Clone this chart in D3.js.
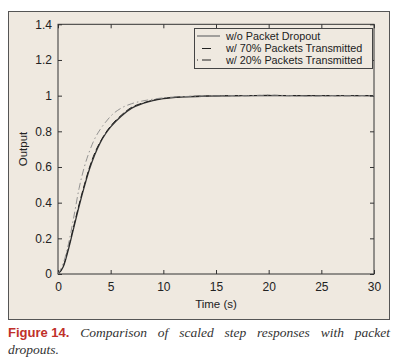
<!DOCTYPE html>
<html><head><meta charset="utf-8">
<script src="https://cdn.jsdelivr.net/npm/d3@7"></script>
<style>body{margin:0;background:#fff;} svg{display:block;}</style>
</head><body>
<script>
const time = [0,0.5,1,1.5,2,2.5,3,3.5,4,4.5,5,6,7,8,9,10,12,14,16,18,20,22,24,26,28,30];
const noDropout = [0,0.04,0.14,0.26,0.38,0.49,0.59,0.67,0.735,0.785,0.825,0.885,0.93,0.955,0.972,0.983,0.993,0.997,0.999,1.0,1.0,1.0,1.0,1.0,1.0,1.0];
const pct70 = [0,0.045,0.15,0.27,0.39,0.50,0.60,0.68,0.74,0.79,0.83,0.89,0.935,0.958,0.974,0.985,0.994,0.998,1.0,1.0,1.002,1.0,1.0,1.0,1.0,1.0];
const pct20 = [0,0.06,0.17,0.32,0.48,0.60,0.69,0.76,0.81,0.85,0.885,0.93,0.955,0.97,0.98,0.988,0.995,0.998,1.0,1.0,1.003,1.0,0.998,1.0,1.0,1.0];
const seriesNames = ["w/o Packet Dropout","w/ 70% Packets Transmitted","w/ 20% Packets Transmitted"];
const xTicks = [0,5,10,15,20,25,30];
const yTicks = [0,0.2,0.4,0.6,0.8,1,1.2,1.4];

const W=401,H=360;
const svg=d3.select("body").append("svg").attr("width",W).attr("height",H);
svg.append("rect").attr("width",W).attr("height",H).attr("fill","#fff");
svg.append("rect").attr("x",8.5).attr("y",11.5).attr("width",381).attr("height",308)
  .attr("fill","#efe9e0").attr("stroke","#555").attr("stroke-width",1);

const x=d3.scaleLinear().domain([0,30]).range([58,374]);
const y=d3.scaleLinear().domain([0,1.4]).range([274,24.3]);

const font="Liberation Sans, Arial, sans-serif";
const axisCol="#333";
svg.append("rect").attr("x",x(0)).attr("y",y(1.4)).attr("width",x(30)-x(0)).attr("height",y(0)-y(1.4))
  .attr("fill","none").attr("stroke",axisCol).attr("stroke-width",1);

const tl=4;
const gx=svg.append("g").attr("transform",`translate(0,${y(0)})`)
  .call(d3.axisBottom(x).tickValues(xTicks).tickSize(-tl).tickPadding(8).tickFormat(d3.format("d")));
const gxt=svg.append("g").attr("transform",`translate(0,${y(1.4)})`)
  .call(d3.axisTop(x).tickValues(xTicks).tickSize(-tl).tickFormat(""));
const gy=svg.append("g").attr("transform",`translate(${x(0)},0)`)
  .call(d3.axisLeft(y).tickValues(yTicks).tickSize(-tl).tickPadding(6).tickFormat(d=>d3.format("~g")(d)));
const gyr=svg.append("g").attr("transform",`translate(${x(30)},0)`)
  .call(d3.axisRight(y).tickValues(yTicks).tickSize(-tl).tickFormat(""));
[gx,gxt,gy,gyr].forEach(g=>{
  g.select(".domain").remove();
  g.selectAll("line").attr("stroke",axisCol);
  g.selectAll("text").attr("font-family",font).attr("font-size",12).attr("fill","#222");
});

svg.append("text").attr("x",216).attr("y",308).attr("text-anchor","middle")
  .attr("font-family",font).attr("font-size",11.5).attr("fill","#222").text("Time (s)");
svg.append("text").attr("transform",`translate(27,149) rotate(-90)`).attr("text-anchor","middle")
  .attr("font-family",font).attr("font-size",11.5).attr("fill","#222").text("Output");

const line=d3.line().x((d,i)=>x(time[i])).y(d=>y(d)).curve(d3.curveMonotoneX);
const styles=[
  {data:noDropout,stroke:"#333",w:1.3,dash:null},
  {data:pct70,stroke:"#222",w:1,dash:"7,3"},
  {data:pct20,stroke:"#888",w:0.9,dash:"7,3,1.5,3"}
];
styles.forEach(s=>{
  svg.append("path").attr("d",line(s.data)).attr("fill","none")
    .attr("stroke",s.stroke).attr("stroke-width",s.w).attr("stroke-dasharray",s.dash);
});

const lg=svg.append("g");
lg.append("rect").attr("x",194.5).attr("y",28.5).attr("width",178).attr("height",40)
  .attr("fill","#efe9e0").attr("stroke","#444").attr("stroke-width",1);
const rowsY=[36,48.5,60];
lg.append("line").attr("x1",197).attr("x2",220).attr("y1",rowsY[0]).attr("y2",rowsY[0]).attr("stroke","#777").attr("stroke-width",1.3);
lg.append("line").attr("x1",202).attr("x2",211).attr("y1",rowsY[1]).attr("y2",rowsY[1]).attr("stroke","#222").attr("stroke-width",1);
lg.append("line").attr("x1",197).attr("x2",198).attr("y1",rowsY[2]).attr("y2",rowsY[2]).attr("stroke","#222").attr("stroke-width",1);
lg.append("line").attr("x1",202).attr("x2",211).attr("y1",rowsY[2]).attr("y2",rowsY[2]).attr("stroke","#222").attr("stroke-width",1);
seriesNames.forEach((n,i)=>{
  lg.append("text").attr("x",226).attr("y",rowsY[i]+3.5).attr("font-family",font).attr("font-size",10.8)
    .attr("fill","#222").text(n);
});

// caption
const serif="Liberation Serif, Times New Roman, serif";
const c1=svg.append("text").attr("x",8).attr("y",337).attr("font-size",13);
c1.append("tspan").attr("font-family",font).attr("font-weight","bold").attr("fill","#c0302a").text("Figure 14.");
const capText=" Comparison of scaled step responses with packet";
const t2=c1.append("tspan").attr("font-family",serif).attr("font-style","italic")
  .attr("fill","#333").attr("font-size",13.5).text(capText);
const len=c1.node().getComputedTextLength();
const spaces=(capText.match(/ /g)||[]).length;
t2.attr("word-spacing",Math.max(0,(390-8-len)/spaces));
svg.append("text").attr("x",8).attr("y",354).attr("font-size",13.5)
  .attr("font-family",serif).attr("font-style","italic").attr("fill","#333").text("dropouts.");
</script>
</body></html>
